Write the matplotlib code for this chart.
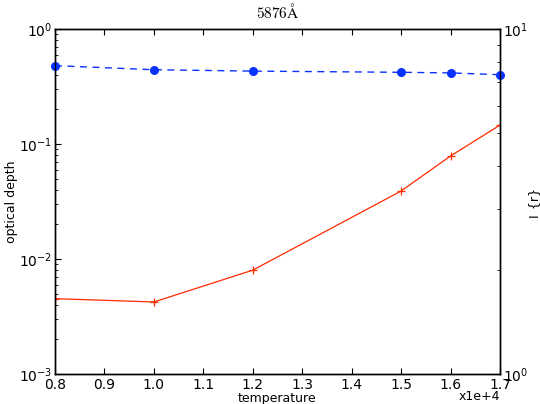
import matplotlib
matplotlib.use("Agg")
import matplotlib.pyplot as plt
from matplotlib.ticker import FuncFormatter, MultipleLocator, NullFormatter

# temperature samples (K)
temperature = [8000, 10000, 12000, 15000, 16000, 17000]
# optical depth (left axis)
optical_depth = [0.00452, 0.00423, 0.0080, 0.039, 0.0787, 0.146]
# I_{r} (right axis)
intensity_r = [7.83, 7.62, 7.55, 7.49, 7.46, 7.37]

plt.rcParams["mathtext.fontset"] = "cm"

fig = plt.figure(figsize=(5.4, 4.04), dpi=100)
ax = fig.add_axes([55 / 540, 30 / 404, 445 / 540, 345 / 404])
ax2 = ax.twinx()

ax.plot(temperature, optical_depth, color="#ff2a00", lw=0.9,
        marker="+", ms=6, mew=0.9)
ax2.plot(temperature, intensity_r, color="#0a32ff", lw=1.0, ls="--",
         dashes=(5, 4), marker="o", ms=5.5, mec="#0a32ff", clip_on=False)

ax.set_xlim(8000, 17000)
ax.set_yscale("log")
ax.set_ylim(1e-3, 1)
ax2.set_yscale("log")
ax2.set_ylim(1, 10)
ax2.yaxis.set_minor_formatter(NullFormatter())

ax.xaxis.set_major_locator(MultipleLocator(1000))
ax.xaxis.set_major_formatter(FuncFormatter(lambda v, p: f"{v / 1e4:.1f}"))
ax.text(1.0, -0.047, "x1e+4", transform=ax.transAxes, ha="right",
        va="top", fontsize=9)

for a in (ax, ax2):
    a.tick_params(which="both", direction="in", labelsize=10)
    a.tick_params(which="major", length=4, width=0.8)
    a.tick_params(which="minor", length=2, width=0.6)
    for s in a.spines.values():
        s.set_linewidth(1.0)
ax.tick_params(axis="x", top=True, pad=3)
ax.tick_params(axis="y", pad=2)
ax2.tick_params(axis="y", pad=2)

ax.set_xlabel("temperature", fontsize=9, labelpad=0)
ax.set_ylabel("optical depth", fontsize=9)
ax.yaxis.set_label_coords(-0.083, 0.5)
ax2.set_ylabel("I_{r}", fontsize=9, rotation=90, va="center")
ax2.yaxis.set_label_coords(1.075, 0.5)
ax.set_title(r"$\mathrm{5876\AA}$", fontsize=11, pad=8)

fig.savefig("out.png", dpi=100)
